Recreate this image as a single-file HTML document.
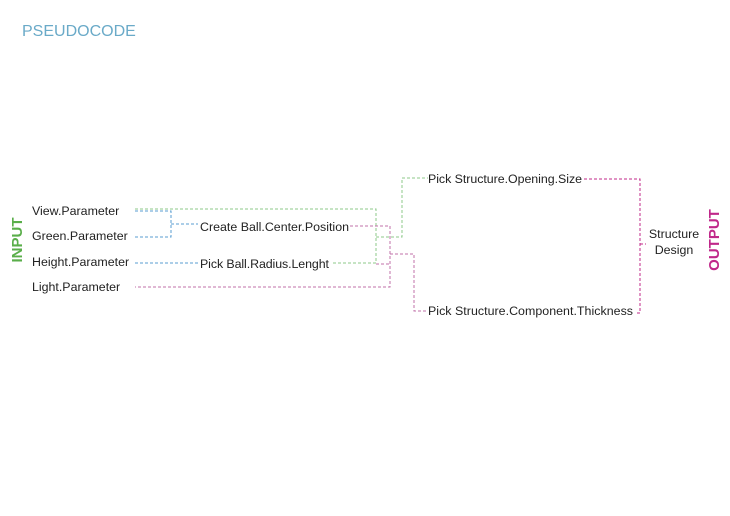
<!DOCTYPE html>
<html><head><meta charset="utf-8"><style>
html,body{margin:0;padding:0;background:#fff;}
svg{display:block;}
text{font-family:"Liberation Sans",sans-serif;font-size:12.4px;fill:#222;}
</style></head><body>
<svg width="730" height="516" viewBox="0 0 730 516" xmlns="http://www.w3.org/2000/svg">
<rect width="730" height="516" fill="#fff"/>
<text x="22" y="36" style="font-size:16px;fill:#6aaac8">PSEUDOCODE</text>
<text transform="translate(22,240) rotate(-90)" text-anchor="middle" style="font-size:15px;fill:#5aae4a;font-weight:bold">INPUT</text>
<text transform="translate(719,240) rotate(-90)" text-anchor="middle" style="font-size:15px;fill:#c0288a;font-weight:bold">OUTPUT</text>

<text x="32" y="215">View.Parameter</text>
<text x="32" y="240">Green.Parameter</text>
<text x="32" y="266">Height.Parameter</text>
<text x="32" y="291">Light.Parameter</text>
<text x="200" y="231" textLength="149">Create Ball.Center.Position</text>
<text x="200" y="268" textLength="129">Pick Ball.Radius.Lenght</text>
<text x="428" y="183" textLength="154">Pick Structure.Opening.Size</text>
<text x="428" y="315" textLength="205">Pick Structure.Component.Thickness</text>
<text x="674" y="238" text-anchor="middle">Structure</text>
<text x="674" y="254" text-anchor="middle">Design</text>

<g fill="none" stroke-width="1" stroke-dasharray="3,2">
<path d="M135 211H171V237H135M171 224H198M135 263H198" stroke="#5a9ed0"/>
<path d="M135 209H376V263H332M376 237H402V178H428" stroke="#8cc88a"/>
<path d="M350 226H390V287H135M376 264H390M390 254H414V311H428" stroke="#c070a8"/>
<path d="M584 179H640V313H635M640 244H646" stroke="#c0288a"/>
</g>
</svg>
</body></html>
